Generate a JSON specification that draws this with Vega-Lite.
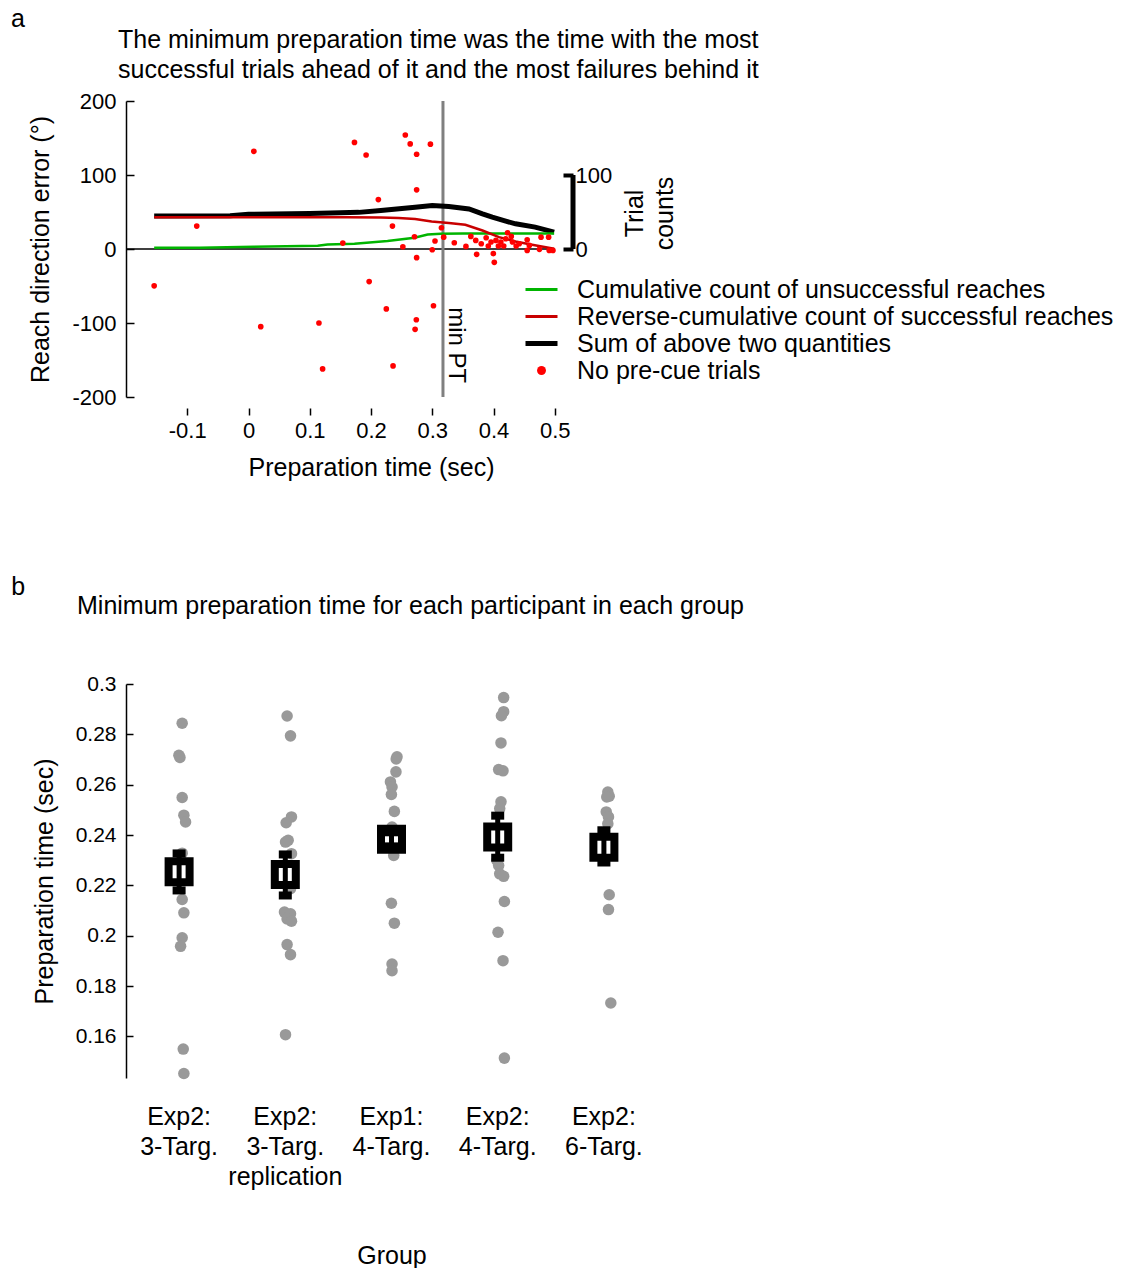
{
  "$schema": "https://vega.github.io/schema/vega-lite/v6.json",
  "background": "white",
  "padding": {"left": 10, "top": 7, "right": 5, "bottom": 5},
  "config": {
    "font": "Liberation Sans",
    "view": {"stroke": null},
    "axis": {"grid": false, "labelColor": "black", "titleColor": "black", "domainColor": "black", "tickColor": "black", "titleFontWeight": "normal", "labelFont": "Liberation Sans", "titleFont": "Liberation Sans"},
    "title": {"fontWeight": "normal", "color": "black", "font": "Liberation Sans"},
    "legend": {"labelFont": "Liberation Sans"},
    "concat": {"spacing": 95}
  },
  "datasets": {
    "curves": [
      {"series": "Cumulative count of unsuccessful reaches", "x": -0.154, "n": 1.7},
      {"series": "Cumulative count of unsuccessful reaches", "x": -0.08, "n": 1.8},
      {"series": "Cumulative count of unsuccessful reaches", "x": 0.009, "n": 3.1},
      {"series": "Cumulative count of unsuccessful reaches", "x": 0.113, "n": 4.4},
      {"series": "Cumulative count of unsuccessful reaches", "x": 0.129, "n": 6.2},
      {"series": "Cumulative count of unsuccessful reaches", "x": 0.173, "n": 7.1},
      {"series": "Cumulative count of unsuccessful reaches", "x": 0.227, "n": 10.8},
      {"series": "Cumulative count of unsuccessful reaches", "x": 0.271, "n": 15.2},
      {"series": "Cumulative count of unsuccessful reaches", "x": 0.2925, "n": 19.7},
      {"series": "Cumulative count of unsuccessful reaches", "x": 0.314, "n": 20.6},
      {"series": "Cumulative count of unsuccessful reaches", "x": 0.35, "n": 21},
      {"series": "Cumulative count of unsuccessful reaches", "x": 0.4, "n": 21},
      {"series": "Cumulative count of unsuccessful reaches", "x": 0.45, "n": 21},
      {"series": "Cumulative count of unsuccessful reaches", "x": 0.499, "n": 21},
      {"series": "Reverse-cumulative count of successful reaches", "x": -0.154, "n": 43},
      {"series": "Reverse-cumulative count of successful reaches", "x": 0.0, "n": 43},
      {"series": "Reverse-cumulative count of successful reaches", "x": 0.16, "n": 43},
      {"series": "Reverse-cumulative count of successful reaches", "x": 0.216, "n": 42.5},
      {"series": "Reverse-cumulative count of successful reaches", "x": 0.245, "n": 41.8},
      {"series": "Reverse-cumulative count of successful reaches", "x": 0.272, "n": 40.5},
      {"series": "Reverse-cumulative count of successful reaches", "x": 0.299, "n": 37.2},
      {"series": "Reverse-cumulative count of successful reaches", "x": 0.327, "n": 35},
      {"series": "Reverse-cumulative count of successful reaches", "x": 0.354, "n": 32.7},
      {"series": "Reverse-cumulative count of successful reaches", "x": 0.382, "n": 25},
      {"series": "Reverse-cumulative count of successful reaches", "x": 0.409, "n": 16},
      {"series": "Reverse-cumulative count of successful reaches", "x": 0.436, "n": 10.2},
      {"series": "Reverse-cumulative count of successful reaches", "x": 0.463, "n": 5.8},
      {"series": "Reverse-cumulative count of successful reaches", "x": 0.499, "n": 0.4},
      {"series": "Sum of above two quantities", "x": -0.154, "n": 44.7},
      {"series": "Sum of above two quantities", "x": -0.03, "n": 45},
      {"series": "Sum of above two quantities", "x": 0.0, "n": 47},
      {"series": "Sum of above two quantities", "x": 0.1, "n": 48},
      {"series": "Sum of above two quantities", "x": 0.15, "n": 49},
      {"series": "Sum of above two quantities", "x": 0.18, "n": 49.5},
      {"series": "Sum of above two quantities", "x": 0.216, "n": 52},
      {"series": "Sum of above two quantities", "x": 0.272, "n": 56.5},
      {"series": "Sum of above two quantities", "x": 0.3, "n": 58.7},
      {"series": "Sum of above two quantities", "x": 0.327, "n": 57.4},
      {"series": "Sum of above two quantities", "x": 0.36, "n": 54.2},
      {"series": "Sum of above two quantities", "x": 0.382, "n": 47.5},
      {"series": "Sum of above two quantities", "x": 0.398, "n": 43},
      {"series": "Sum of above two quantities", "x": 0.42, "n": 37.7},
      {"series": "Sum of above two quantities", "x": 0.436, "n": 34},
      {"series": "Sum of above two quantities", "x": 0.468, "n": 29.6},
      {"series": "Sum of above two quantities", "x": 0.499, "n": 22.9}
    ],
    "trials": [
      {"pt": -0.154, "err": -49.8}, {"pt": -0.0845, "err": 31}, {"pt": 0.0087, "err": 132}, {"pt": 0.02, "err": -105},
      {"pt": 0.115, "err": -100}, {"pt": 0.121, "err": -162}, {"pt": 0.154, "err": 8}, {"pt": 0.173, "err": 144},
      {"pt": 0.192, "err": 127}, {"pt": 0.197, "err": -44}, {"pt": 0.212, "err": 66.8}, {"pt": 0.225, "err": -81},
      {"pt": 0.235, "err": 31}, {"pt": 0.236, "err": -158}, {"pt": 0.252, "err": 3}, {"pt": 0.256, "err": 154},
      {"pt": 0.264, "err": 142}, {"pt": 0.271, "err": 16.5}, {"pt": 0.272, "err": -108.6}, {"pt": 0.274, "err": -95.6},
      {"pt": 0.2745, "err": 128}, {"pt": 0.2745, "err": 80}, {"pt": 0.2745, "err": -11.7}, {"pt": 0.297, "err": 141.7},
      {"pt": 0.3, "err": -1}, {"pt": 0.302, "err": -76.7}, {"pt": 0.3045, "err": 10.8}, {"pt": 0.315, "err": 28.7},
      {"pt": 0.3187, "err": 16}, {"pt": 0.336, "err": 8.5}, {"pt": 0.355, "err": 3.5}, {"pt": 0.363, "err": 17},
      {"pt": 0.371, "err": 11.6}, {"pt": 0.3725, "err": -7.2}, {"pt": 0.38, "err": 7.1}, {"pt": 0.388, "err": 15.2},
      {"pt": 0.3915, "err": 4}, {"pt": 0.396, "err": 9.4}, {"pt": 0.3997, "err": -6.3}, {"pt": 0.4013, "err": -18},
      {"pt": 0.404, "err": 11.6}, {"pt": 0.408, "err": 4}, {"pt": 0.412, "err": 9.4}, {"pt": 0.4167, "err": 4},
      {"pt": 0.42, "err": 13.9}, {"pt": 0.423, "err": 22}, {"pt": 0.429, "err": 17}, {"pt": 0.431, "err": 9.4},
      {"pt": 0.437, "err": 4}, {"pt": 0.442, "err": 7.1}, {"pt": 0.455, "err": 12.5}, {"pt": 0.455, "err": -1.9},
      {"pt": 0.4585, "err": 4.8}, {"pt": 0.475, "err": -0.5}, {"pt": 0.4776, "err": 16}, {"pt": 0.49, "err": 16},
      {"pt": 0.491, "err": -1.9}, {"pt": 0.497, "err": -1.9}
    ],
    "participants": [
      {"group": "Exp2:\n3-Targ.", "t": 0.2844, "off": 0.029},
      {"group": "Exp2:\n3-Targ.", "t": 0.2717, "off": -0.002},
      {"group": "Exp2:\n3-Targ.", "t": 0.2708, "off": 0.008},
      {"group": "Exp2:\n3-Targ.", "t": 0.2549, "off": 0.029},
      {"group": "Exp2:\n3-Targ.", "t": 0.2479, "off": 0.045},
      {"group": "Exp2:\n3-Targ.", "t": 0.2452, "off": 0.061},
      {"group": "Exp2:\n3-Targ.", "t": 0.2328, "off": 0.029},
      {"group": "Exp2:\n3-Targ.", "t": 0.2144, "off": 0.029},
      {"group": "Exp2:\n3-Targ.", "t": 0.2091, "off": 0.045},
      {"group": "Exp2:\n3-Targ.", "t": 0.1992, "off": 0.029},
      {"group": "Exp2:\n3-Targ.", "t": 0.1958, "off": 0.014},
      {"group": "Exp2:\n3-Targ.", "t": 0.155, "off": 0.039},
      {"group": "Exp2:\n3-Targ.", "t": 0.1453, "off": 0.045},
      {"group": "Exp2:\n3-Targ.\nreplication", "t": 0.2873, "off": 0.017},
      {"group": "Exp2:\n3-Targ.\nreplication", "t": 0.2794, "off": 0.049},
      {"group": "Exp2:\n3-Targ.\nreplication", "t": 0.2472, "off": 0.058},
      {"group": "Exp2:\n3-Targ.\nreplication", "t": 0.2449, "off": 0.008},
      {"group": "Exp2:\n3-Targ.\nreplication", "t": 0.2379, "off": 0.027},
      {"group": "Exp2:\n3-Targ.\nreplication", "t": 0.2372, "off": 0.002},
      {"group": "Exp2:\n3-Targ.\nreplication", "t": 0.2326, "off": 0.058},
      {"group": "Exp2:\n3-Targ.\nreplication", "t": 0.2187, "off": 0.049},
      {"group": "Exp2:\n3-Targ.\nreplication", "t": 0.2094, "off": -0.008},
      {"group": "Exp2:\n3-Targ.\nreplication", "t": 0.2087, "off": 0.049},
      {"group": "Exp2:\n3-Targ.\nreplication", "t": 0.2067, "off": 0.017},
      {"group": "Exp2:\n3-Targ.\nreplication", "t": 0.2058, "off": 0.058},
      {"group": "Exp2:\n3-Targ.\nreplication", "t": 0.1965, "off": 0.017},
      {"group": "Exp2:\n3-Targ.\nreplication", "t": 0.1925, "off": 0.049},
      {"group": "Exp2:\n3-Targ.\nreplication", "t": 0.1607, "off": 0.002},
      {"group": "Exp1:\n4-Targ.", "t": 0.2711, "off": 0.052},
      {"group": "Exp1:\n4-Targ.", "t": 0.2702, "off": 0.044},
      {"group": "Exp1:\n4-Targ.", "t": 0.2651, "off": 0.042},
      {"group": "Exp1:\n4-Targ.", "t": 0.2611, "off": -0.01},
      {"group": "Exp1:\n4-Targ.", "t": 0.2591, "off": 0.005},
      {"group": "Exp1:\n4-Targ.", "t": 0.2561, "off": -0.001},
      {"group": "Exp1:\n4-Targ.", "t": 0.2494, "off": 0.027},
      {"group": "Exp1:\n4-Targ.", "t": 0.2432, "off": 0.005},
      {"group": "Exp1:\n4-Targ.", "t": 0.2319, "off": 0.021},
      {"group": "Exp1:\n4-Targ.", "t": 0.2129, "off": -0.001},
      {"group": "Exp1:\n4-Targ.", "t": 0.205, "off": 0.027},
      {"group": "Exp1:\n4-Targ.", "t": 0.1888, "off": 0.005},
      {"group": "Exp1:\n4-Targ.", "t": 0.1861, "off": 0.005},
      {"group": "Exp2:\n4-Targ.", "t": 0.2946, "off": 0.056},
      {"group": "Exp2:\n4-Targ.", "t": 0.289, "off": 0.056},
      {"group": "Exp2:\n4-Targ.", "t": 0.2874, "off": 0.035},
      {"group": "Exp2:\n4-Targ.", "t": 0.2766, "off": 0.031},
      {"group": "Exp2:\n4-Targ.", "t": 0.266, "off": 0.009},
      {"group": "Exp2:\n4-Targ.", "t": 0.2655, "off": 0.05},
      {"group": "Exp2:\n4-Targ.", "t": 0.2532, "off": 0.031},
      {"group": "Exp2:\n4-Targ.", "t": 0.2505, "off": 0.019},
      {"group": "Exp2:\n4-Targ.", "t": 0.2299, "off": -0.007},
      {"group": "Exp2:\n4-Targ.", "t": 0.2279, "off": 0.009},
      {"group": "Exp2:\n4-Targ.", "t": 0.2246, "off": 0.019},
      {"group": "Exp2:\n4-Targ.", "t": 0.2236, "off": 0.056},
      {"group": "Exp2:\n4-Targ.", "t": 0.2136, "off": 0.063},
      {"group": "Exp2:\n4-Targ.", "t": 0.2014, "off": 0.003},
      {"group": "Exp2:\n4-Targ.", "t": 0.1901, "off": 0.05},
      {"group": "Exp2:\n4-Targ.", "t": 0.1514, "off": 0.063},
      {"group": "Exp2:\n6-Targ.", "t": 0.2571, "off": 0.037},
      {"group": "Exp2:\n6-Targ.", "t": 0.2554, "off": 0.05},
      {"group": "Exp2:\n6-Targ.", "t": 0.2551, "off": 0.027},
      {"group": "Exp2:\n6-Targ.", "t": 0.2492, "off": 0.022},
      {"group": "Exp2:\n6-Targ.", "t": 0.2472, "off": 0.043},
      {"group": "Exp2:\n6-Targ.", "t": 0.2445, "off": 0.037},
      {"group": "Exp2:\n6-Targ.", "t": 0.2163, "off": 0.05},
      {"group": "Exp2:\n6-Targ.", "t": 0.2104, "off": 0.043},
      {"group": "Exp2:\n6-Targ.", "t": 0.1733, "off": 0.065}
    ],
    "means": [
      {"group": "Exp2:\n3-Targ.", "mean": 0.2254, "lo": 0.218, "hi": 0.2327},
      {"group": "Exp2:\n3-Targ.\nreplication", "mean": 0.2243, "lo": 0.216, "hi": 0.2323},
      {"group": "Exp1:\n4-Targ.", "mean": 0.2383, "lo": 0.2355, "hi": 0.2411},
      {"group": "Exp2:\n4-Targ.", "mean": 0.2392, "lo": 0.231, "hi": 0.2477},
      {"group": "Exp2:\n6-Targ.", "mean": 0.2352, "lo": 0.2291, "hi": 0.2419}
    ]
  },
  "vconcat": [
    {
      "title": {"text": "a", "anchor": "start", "fontSize": 25, "dx": -18, "offset": -4},
      "vconcat": [
        {
          "width": 490,
          "height": 296,
          "title": {
            "text": ["The minimum preparation time was the time with the most", "successful trials ahead of it and the most failures behind it"],
            "anchor": "start", "frame": "group", "fontSize": 25, "lineHeight": 30, "dx": -8, "offset": 7
          },
          "layer": [
            {
              "data": {"values": [{"ref": 0}]},
              "mark": {"type": "rule", "color": "black", "strokeWidth": 1.5},
              "encoding": {
                "x": {"datum": -0.2, "type": "quantitative", "scale": {"domain": [-0.2, 0.6], "nice": false}},
                "x2": {"datum": 0.5},
                "y": {"field": "ref", "type": "quantitative", "scale": {"domain": [-200, 200], "nice": false}, "axis": null}
              }
            },
            {
              "data": {"values": [{"minpt": 0.3175}]},
              "mark": {"type": "rule", "color": "#808080", "strokeWidth": 3},
              "encoding": {
                "x": {"field": "minpt", "type": "quantitative", "scale": {"domain": [-0.2, 0.6], "nice": false}}
              }
            },
            {
              "data": {"name": "curves"},
              "transform": [{"filter": "datum.series === 'Sum of above two quantities'"}],
              "mark": {"type": "line", "strokeWidth": 5},
              "encoding": {
                "x": {"field": "x", "type": "quantitative", "scale": {"domain": [-0.2, 0.6], "nice": false}},
                "y": {"field": "n", "type": "quantitative", "scale": {"domain": [-200, 200], "nice": false}, "axis": null},
                "color": {
                  "field": "series", "type": "nominal",
                  "scale": {"domain": ["Cumulative count of unsuccessful reaches", "Reverse-cumulative count of successful reaches", "Sum of above two quantities", "No pre-cue trials"], "range": ["#00b400", "#c80000", "#000000", "#ff0000"]},
                  "legend": {
                    "title": null, "orient": "none", "legendX": 403, "legendY": 176, "padding": 0,
                    "labelFontSize": 25, "labelColor": "black", "labelOffset": 23, "labelLimit": 800, "rowPadding": 1,
                    "symbolType": "stroke", "symbolSize": 1024,
                    "encode": {"symbols": {"update": {
                      "shape": {"signal": "datum.value === 'No pre-cue trials' ? 'circle' : 'stroke'"},
                      "size": {"signal": "datum.value === 'No pre-cue trials' ? 80 : 1024"},
                      "strokeWidth": {"signal": "datum.value === 'Sum of above two quantities' ? 5 : (datum.value === 'No pre-cue trials' ? 0 : 3)"},
                      "fill": {"signal": "datum.value === 'No pre-cue trials' ? '#ff0000' : 'transparent'"},
                      "stroke": {"signal": "scale('color', datum.value)"},
                      "opacity": {"value": 1}
                    }}}
                  }
                }
              }
            },
            {
              "data": {"name": "curves"},
              "transform": [{"filter": "datum.series !== 'Sum of above two quantities'"}],
              "mark": {"type": "line", "strokeWidth": 2.5},
              "encoding": {
                "x": {"field": "x", "type": "quantitative", "scale": {"domain": [-0.2, 0.6], "nice": false}},
                "y": {"field": "n", "type": "quantitative", "scale": {"domain": [-200, 200], "nice": false}, "axis": null},
                "color": {"field": "series", "type": "nominal"}
              }
            },
            {
              "data": {"name": "trials"},
              "mark": {"type": "circle", "size": 32, "color": "#ff0000", "opacity": 1},
              "encoding": {
                "x": {
                  "field": "pt", "type": "quantitative", "scale": {"domain": [-0.2, 0.6], "nice": false},
                  "axis": {"values": [-0.1, 0, 0.1, 0.2, 0.3, 0.4, 0.5], "labelExpr": "'' + datum.value", "domain": false, "tickSize": 7, "tickWidth": 1.5, "offset": 11, "labelFontSize": 22, "labelPadding": 5, "title": "Preparation time (sec)", "titleFontSize": 25, "titlePadding": 14}
                },
                "y": {
                  "field": "err", "type": "quantitative", "scale": {"domain": [-200, 200], "nice": false},
                  "axis": {"orient": "left", "values": [-200, -100, 0, 100, 200], "labelExpr": "'' + datum.value", "tickSize": -8, "tickWidth": 1.5, "domainWidth": 1.5, "labelFontSize": 22, "labelPadding": 18, "title": "Reach direction error (°)", "titleFontSize": 25, "titlePadding": 18}
                }
              }
            },
            {
              "data": {"values": [{"lo": 0, "hi": 100, "at": 0.5298}]},
              "mark": {"type": "rule", "color": "black", "strokeWidth": 5},
              "encoding": {
                "x": {"field": "at", "type": "quantitative", "scale": {"domain": [-0.2, 0.6], "nice": false}},
                "y": {
                  "field": "lo", "type": "quantitative", "scale": {"domain": [-200, 200], "nice": false},
                  "axis": {"orient": "right", "values": [0, 100], "offset": -43, "domain": false, "tickSize": -10, "tickWidth": 4, "labelFontSize": 22, "labelPadding": 12, "title": ["Trial", "counts"], "titleFontSize": 25, "titleLineHeight": 30, "titleAngle": 270, "titleAlign": "center", "titleBaseline": "middle", "titleX": 61, "titleY": 112}
                },
                "y2": {"field": "hi"}
              }
            },
            {
              "data": {"values": [{"label": "min PT", "lx": 0.339, "ly": -130}]},
              "mark": {"type": "text", "angle": 90, "fontSize": 24, "align": "center", "baseline": "middle", "color": "black"},
              "encoding": {
                "x": {"field": "lx", "type": "quantitative", "scale": {"domain": [-0.2, 0.6], "nice": false}},
                "y": {"field": "ly", "type": "quantitative", "scale": {"domain": [-200, 200], "nice": false}, "axis": null},
                "text": {"field": "label"}
              }
            }
          ],
          "resolve": {"axis": {"y": "independent"}}
        }
      ]
    },
    {
      "title": {"text": "b", "anchor": "start", "fontSize": 25, "dx": -21, "offset": -6},
      "vconcat": [
        {
          "width": 531,
          "height": 394,
          "title": {"text": "Minimum preparation time for each participant in each group", "anchor": "start", "frame": "group", "fontSize": 25, "dx": -49, "offset": 54},
          "encoding": {
            "x": {
              "field": "group", "type": "nominal",
              "scale": {"domain": ["Exp2:\n3-Targ.", "Exp2:\n3-Targ.\nreplication", "Exp1:\n4-Targ.", "Exp2:\n4-Targ.", "Exp2:\n6-Targ."], "paddingInner": 0, "paddingOuter": 0},
              "axis": {"title": "Group", "labelExpr": "split(datum.label, '\\n')", "labelFontSize": 25, "labelLineHeight": 30, "labelAngle": 0, "labelLimit": 300, "ticks": false, "domain": false, "labelPadding": 26, "labelBaseline": "top", "titleFontSize": 25, "titlePadding": 54}
            }
          },
          "layer": [
            {
              "data": {"name": "participants"},
              "mark": {"type": "circle", "size": 133, "color": "#999999", "opacity": 1},
              "encoding": {
                "xOffset": {"field": "off", "type": "quantitative", "scale": {"domain": [-0.5, 0.5]}},
                "y": {
                  "field": "t", "type": "quantitative", "scale": {"domain": [0.1435, 0.3], "nice": false, "zero": false},
                  "axis": {"values": [0.16, 0.18, 0.2, 0.22, 0.24, 0.26, 0.28, 0.3], "format": ".2~f", "tickSize": -7, "tickWidth": 1.5, "domainWidth": 1.5, "labelFontSize": 21, "labelPadding": 17, "title": "Preparation time (sec)", "titleFontSize": 25, "titlePadding": 18}
                }
              }
            },
            {
              "data": {"name": "means"},
              "mark": {"type": "point", "shape": "square", "size": 441, "filled": false, "fill": "white", "stroke": "black", "strokeWidth": 8, "opacity": 1},
              "encoding": {"y": {"field": "mean", "type": "quantitative"}}
            },
            {
              "data": {"name": "means"},
              "mark": {"type": "rule", "color": "black", "strokeWidth": 5},
              "encoding": {"y": {"field": "lo", "type": "quantitative"}, "y2": {"field": "hi"}}
            },
            {
              "data": {"name": "means"},
              "mark": {"type": "tick", "color": "black", "size": 13, "thickness": 8, "opacity": 1},
              "encoding": {"y": {"field": "lo", "type": "quantitative"}}
            },
            {
              "data": {"name": "means"},
              "mark": {"type": "tick", "color": "black", "size": 13, "thickness": 8, "opacity": 1},
              "encoding": {"y": {"field": "hi", "type": "quantitative"}}
            }
          ]
        }
      ]
    }
  ]
}
